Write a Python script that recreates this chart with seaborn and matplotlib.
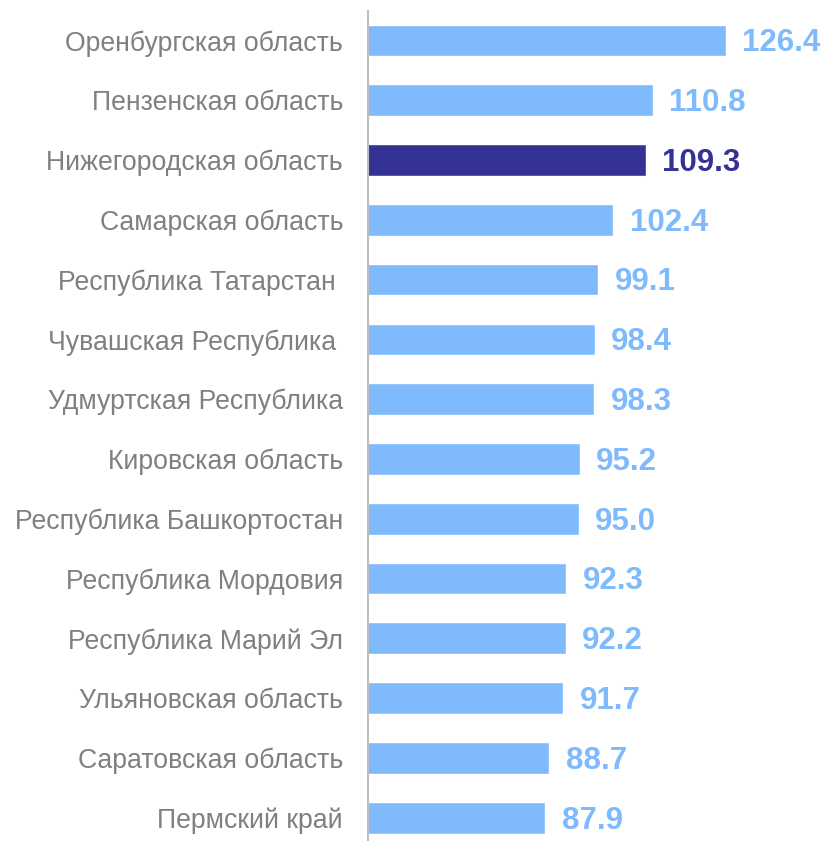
import pandas as pd
import matplotlib.pyplot as plt
import seaborn as sns

# Data
regions = [
    'Оренбургская область',
    'Пензенская область',
    'Нижегородская область',
    'Самарская область',
    'Республика Татарстан ',
    'Чувашская Республика ',
    'Удмуртская Республика',
    'Кировская область',
    'Республика Башкортостан',
    'Республика Мордовия',
    'Республика Марий Эл',
    'Ульяновская область',
    'Саратовская область',
    'Пермский край',
]
values = [126.4, 110.8, 109.3, 102.4, 99.1, 98.4, 98.3, 95.2, 95.0, 92.3, 92.2, 91.7, 88.7, 87.9]
highlight = 'Нижегородская область'

light = '#7EBAFC'
dark = '#353296'

df = pd.DataFrame({'region': regions, 'value': values})
df['group'] = ['hl' if r == highlight else 'other' for r in df['region']]

sns.set_style('white')
plt.rcParams['font.family'] = ['Liberation Sans', 'DejaVu Sans']

fig = plt.figure(figsize=(8.25, 8.41), dpi=100)
ax = fig.add_axes([368 / 825, 0, 440 / 825, 1 - 10.6 / 841])

sns.barplot(data=df, x='value', y='region', hue='group',
            palette={'hl': dark, 'other': light}, width=0.53, saturation=1,
            dodge=False, legend=False, ax=ax, orient='h')

ax.set_xlim(50, 144)
ax.set_ylim(13.39, -0.5)

# value labels, baseline shifted so digits sit centred on the bar
for i, (v, g) in enumerate(zip(df['value'], df['group'])):
    ax.annotate(f'{v:.1f}', xy=(v, i), xytext=(12, -7.8), textcoords='offset points',
                va='baseline', ha='left', fontsize=22.5, fontweight='bold',
                color=dark if g == 'hl' else light)

ax.set_xlabel('')
ax.set_ylabel('')
ax.set_xticks([])
ax.tick_params(axis='y', length=0, pad=18, labelsize=19.2, labelcolor='#808080')
for s in ['top', 'right', 'bottom']:
    ax.spines[s].set_visible(False)
ax.spines['left'].set_color('#BFBFBF')
ax.spines['left'].set_linewidth(1.5)

plt.savefig('out.png', dpi=100)
plt.close()
print('Saved: out.png')
